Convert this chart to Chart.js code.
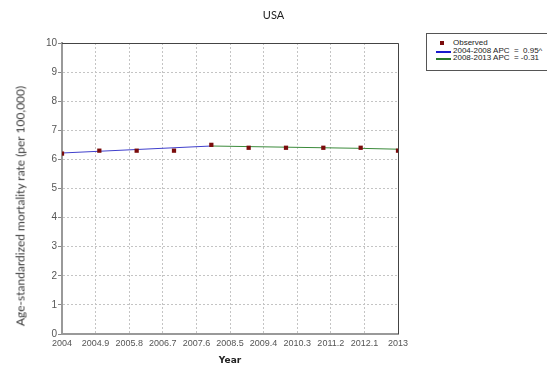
<!DOCTYPE html>
<html>
<head>
<meta charset="utf-8">
<script src="https://cdn.jsdelivr.net/npm/chart.js@4"></script>
<style>
  body { margin: 0; background: #fff; }
  #wrap { position: relative; width: 547px; height: 370px; overflow: hidden; }
  #title {
    position: absolute; left: 0; top: 8px; width: 547px; text-align: center;
    font: 11px Lato, sans-serif; color: #222;
  }
  #ytitle {
    position: absolute; left: 20px; top: 206px; white-space: nowrap;
    transform: translate(-50%, -50%) rotate(-90deg);
    font: 12px Lato, sans-serif; color: #3a3a3a;
  }
  #legend {
    position: absolute; left: 426px; top: 33px; width: 125px; height: 36px;
    border: 1px solid #555; background: #fff;
    font: 8px "Liberation Sans", Arial, sans-serif; color: #222;
  }
  .row { position: absolute; left: 0; height: 8px; line-height: 8px; white-space: pre; }
  .sw { position: absolute; left: 9px; top: 4px; width: 15px; height: 2px; }
  .dot { position: absolute; left: 13px; top: 2px; width: 4px; height: 4px; background: #7a0c0c; }
  .txt { position: absolute; left: 26px; top: 0; }
</style>
</head>
<body>
<div id="wrap">
  <canvas id="myChart" width="547" height="370"></canvas>
  <div id="title">USA</div>
  <div id="ytitle">Age-standardized mortality rate (per 100,000)</div>
  <div id="legend">
    <div class="row" style="top:5px"><span class="dot"></span><span class="txt">Observed</span></div>
    <div class="row" style="top:13px"><span class="sw" style="background:#1a1acc"></span><span class="txt">2004-2008 APC  =  0.95^</span></div>
    <div class="row" style="top:20px"><span class="sw" style="background:#2a7a2a"></span><span class="txt">2008-2013 APC  = -0.31</span></div>
  </div>
</div>
<script>
// data
const years = [2004, 2005, 2006, 2007, 2008, 2009, 2010, 2011, 2012, 2013];
const observed = [6.2, 6.3, 6.3, 6.3, 6.5, 6.4, 6.4, 6.4, 6.4, 6.3];
const seg1Years = [2004, 2005, 2006, 2007, 2008];
const seg1Fit = [6.22, 6.28, 6.34, 6.40, 6.46];
const seg2Years = [2008, 2009, 2010, 2011, 2012, 2013];
const seg2Fit = [6.46, 6.44, 6.42, 6.40, 6.38, 6.35];
const xTicks = [2004, 2004.9, 2005.8, 2006.7, 2007.6, 2008.5, 2009.4, 2010.3, 2011.2, 2012.1, 2013];
const yTicks = [0, 1, 2, 3, 4, 5, 6, 7, 8, 9, 10];

const toPts = (xs, ys) => xs.map((x, i) => ({ x: x, y: ys[i] }));

// dark box on top and right side of the plot
const frame = {
  id: 'frame',
  afterDatasetsDraw(chart) {
    const a = chart.chartArea, c = chart.ctx;
    c.save();
    c.strokeStyle = '#444';
    c.lineWidth = 1;
    c.beginPath();
    c.moveTo(a.left, a.top + 0.5);
    c.lineTo(a.right + 0.5, a.top + 0.5);
    c.lineTo(a.right + 0.5, a.bottom);
    c.stroke();
    c.restore();
  }
};

const ctx = document.getElementById('myChart');

new Chart(ctx, {
  type: 'scatter',
  data: {
    datasets: [
      {
        label: 'Observed',
        data: toPts(years, observed),
        pointStyle: 'rect',
        pointRadius: 3,
        backgroundColor: '#7a0c0c',
        borderColor: '#7a0c0c',
        borderWidth: 0,
        showLine: false,
        order: 0
      },
      {
        label: '2004-2008 APC = 0.95^',
        data: toPts(seg1Years, seg1Fit),
        showLine: true,
        borderColor: '#4040cc',
        borderWidth: 1,
        pointRadius: 0,
        order: 1
      },
      {
        label: '2008-2013 APC = -0.31',
        data: toPts(seg2Years, seg2Fit),
        showLine: true,
        borderColor: '#3a8a3a',
        borderWidth: 1,
        pointRadius: 0,
        order: 1
      }
    ]
  },
  options: {
    responsive: false,
    animation: false,
    layout: { padding: { left: 4, right: 149, top: 43, bottom: 0 } },
    plugins: {
      legend: { display: false },
      tooltip: { enabled: false },
      title: { display: false }
    },
    scales: {
      x: {
        type: 'linear',
        min: 2004,
        max: 2013,
        afterBuildTicks: scale => { scale.ticks = xTicks.map(v => ({ value: v })); },
        afterFit: scale => { scale.height = 36; },
        ticks: {
          color: '#555',
          font: { family: 'Liberation Sans', size: 9 },
          maxRotation: 0,
          autoSkip: false,
          padding: 4,
          callback: v => String(v)
        },
        grid: { color: '#c4c4c4', drawTicks: false, tickLength: 0 },
        border: { color: '#999', width: 2, dash: [2, 2] },
        title: {
          display: true,
          text: 'Year',
          color: '#222',
          font: { family: 'DejaVu Sans', size: 9, weight: 'bold' },
          padding: { top: 6 }
        }
      },
      y: {
        min: 0,
        max: 10,
        afterBuildTicks: scale => { scale.ticks = yTicks.map(v => ({ value: v })); },
        afterFit: scale => { scale.width = 58; },
        ticks: {
          color: '#555',
          font: { family: 'Liberation Sans', size: 10 },
          padding: 1
        },
        grid: { color: '#c4c4c4', tickLength: 4, tickColor: '#888', tickBorderDash: [] },
        border: { color: '#999', width: 2, dash: [2, 2] }
      }
    }
  },
  plugins: [frame]
});
</script>
</body>
</html>
